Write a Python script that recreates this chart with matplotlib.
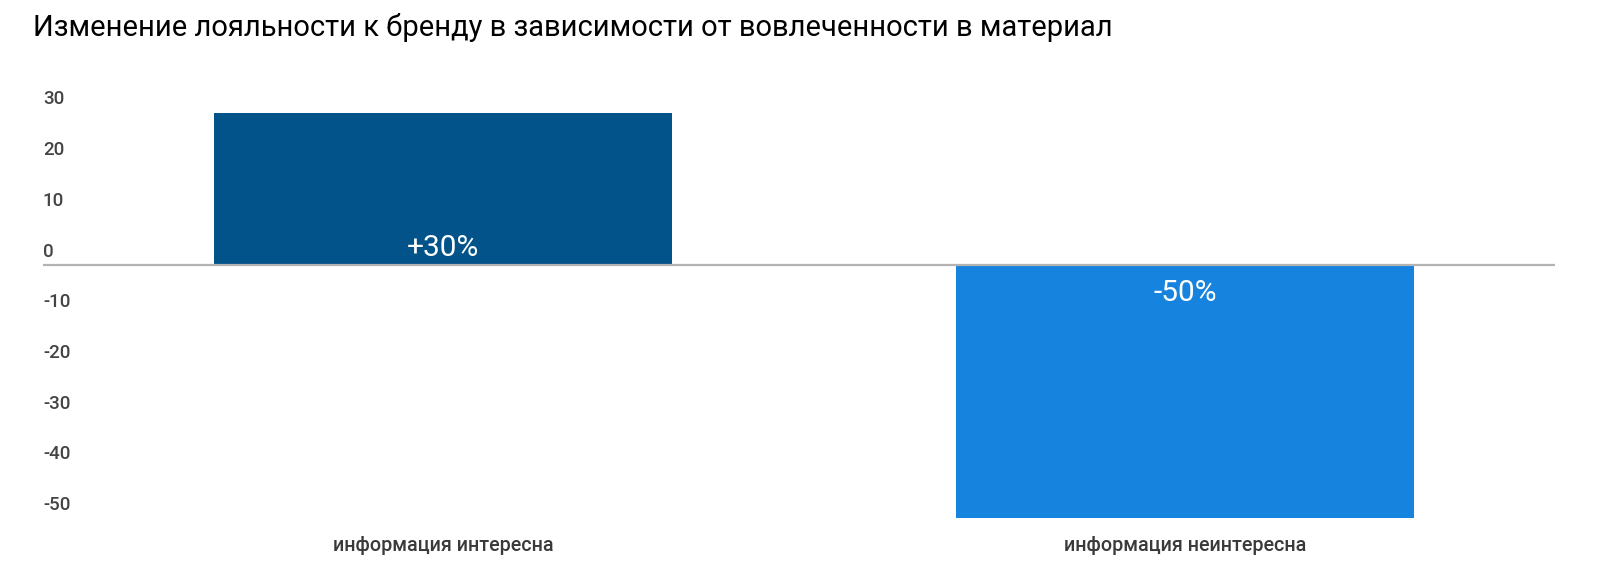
import matplotlib.pyplot as plt
import matplotlib.transforms as mtransforms

categories = ['информация интересна', 'информация неинтересна']
values = [30, -50]
bar_labels = ['+30%', '-50%']
bar_colors = ['#01538A', '#1683DF']
y_ticks = [30, 20, 10, 0, -10, -20, -30, -40, -50]

W, H = 1600, 587
plt.rcParams['font.family'] = ['Roboto', 'DejaVu Sans']

fig = plt.figure(figsize=(W / 100, H / 100), dpi=100)
# plot area in pixels: x 43..1555, y 90..525
ax = fig.add_axes([43 / W, 1 - 525 / H, (1555 - 43) / W, (525 - 90) / H])

x = list(range(len(categories)))
ax.bar(x, values, width=0.617, color=bar_colors, zorder=2)
ax.axhline(0, color='#b3b3b3', lw=1.6, zorder=3)

ax.set_xlim(-0.539, 1.499)
ax.set_ylim(-51.3, 34.5)

for spine in ax.spines.values():
    spine.set_visible(False)

ax.set_xticks(x)
ax.set_xticklabels(categories, fontsize=14.2, color='#3a3a3a', fontweight='medium')
ax.tick_params(axis='x', length=0, pad=8)

ax.set_yticks(y_ticks)
ax.set_yticklabels([str(t) for t in y_ticks], fontsize=13.5, color='#444444',
                   fontweight='medium')
ax.tick_params(axis='y', length=0, pad=0)
offset = mtransforms.ScaledTranslation(0, 9.6 / 72, fig.dpi_scale_trans)
for lab in ax.get_yticklabels():
    lab.set_horizontalalignment('left')
    lab.set_verticalalignment('center')
    lab.set_transform(lab.get_transform() + offset)

# value labels inside the bars, near the baseline
for xi, v, txt in zip(x, values, bar_labels):
    dy = 12.4 if v >= 0 else -20.0
    ax.annotate(txt, (xi, 0), xytext=(0, dy), textcoords='offset points',
                ha='center', va='center', color='white', fontsize=21.5)

fig.text(33 / W, 1 - 27 / H, 'Изменение лояльности к бренду в зависимости от вовлеченности в материал',
         fontsize=21, color='#000000', ha='left', va='center')

fig.savefig('out.png', dpi=100)
